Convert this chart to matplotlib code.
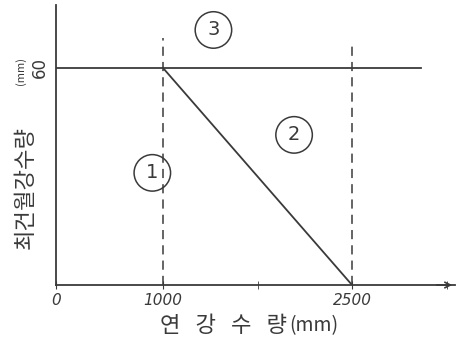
import numpy as np
import matplotlib.pyplot as plt
from matplotlib.scale import FuncScale

plt.rcParams['font.family'] = ['Noto Sans CJK KR', 'DejaVu Sans']

# 데이터
x_ticks = [0, 1000, 2500]
x_tick_labels = ["0", "1000", "2500"]
x_minor = [1750, 3250]
y_ticks = [60]
limit_x = [0, 1000, 2500]       # 경계선
limit_y = [60, 60, 0]
top_line_end = 3050
zone_labels = ["1", "2", "3"]
zone_x = [900, 2040, 1400]
zone_y = [31, 41.5, 70.5]

# 손그림 축 (구간별 선형)
knot_d = [0, 1000, 4000]
knot_p = [0, 107, 485]
fwd = lambda v: np.interp(v, knot_d, knot_p)
inv = lambda v: np.interp(v, knot_p, knot_d)

ink = '#3a3a3a'
fig = plt.figure(figsize=(4.61, 3.53), dpi=100)
ax = fig.add_axes([0.1215, 0.1926, 0.8655, 0.7932])
ax.set_xscale(FuncScale(ax.xaxis, (fwd, inv)))
ax.set_xlim(0, 3317)
ax.set_ylim(0, 77.4)

ax.plot([0, top_line_end], [60, 60], color=ink, lw=1.3)
ax.plot(limit_x[1:], limit_y[1:], color=ink, lw=1.3)
ax.plot([1000, 1000], [0, 68.3], color=ink, lw=1.1, ls=(0, (6, 4)))
ax.plot([2500, 2500], [0, 67.2], color=ink, lw=1.1, ls=(0, (6, 4)))

for s, x, y in zip(zone_labels, zone_x, zone_y):
    ax.text(x, y, s, ha='center', va='center', fontsize=14, color=ink,
            fontfamily='DejaVu Sans',
            bbox=dict(boxstyle='circle,pad=0.45', fc='none', ec=ink, lw=1.1))

for side in ['top', 'right']:
    ax.spines[side].set_visible(False)
for side in ['left', 'bottom']:
    ax.spines[side].set_color(ink)
    ax.spines[side].set_linewidth(1.3)
ax.annotate('', xy=(3317, 0), xytext=(3150, 0),
            arrowprops=dict(arrowstyle='->', color=ink, lw=1.2),
            annotation_clip=False)

ax.set_xticks(x_ticks)
ax.set_xticklabels(x_tick_labels, fontsize=11, style='italic', color=ink,
                   fontfamily='DejaVu Sans')
ax.set_xticks(x_minor, minor=True)
ax.tick_params(axis='x', which='both', direction='inout', length=6, color=ink, pad=3)
ax.set_yticks(y_ticks)
ax.set_yticklabels(["60"], rotation=90, va='center', fontsize=12, color=ink,
                   fontfamily='DejaVu Sans')
ax.tick_params(axis='y', direction='in', length=0, pad=5)

fig.text(0.622, 0.078, "연   강   수   량", ha='right', va='center', fontsize=16, color=ink)
fig.text(0.628, 0.078, "(mm)", ha='left', va='center', fontsize=14, color=ink)
fig.text(0.055, 0.47, "최건월강수량", rotation=90, ha='center', va='center', fontsize=16, color=ink)
fig.text(0.045, 0.80, "(mm)", rotation=90, ha='center', va='center', fontsize=8, color=ink)

plt.savefig("out.png", dpi=100)
